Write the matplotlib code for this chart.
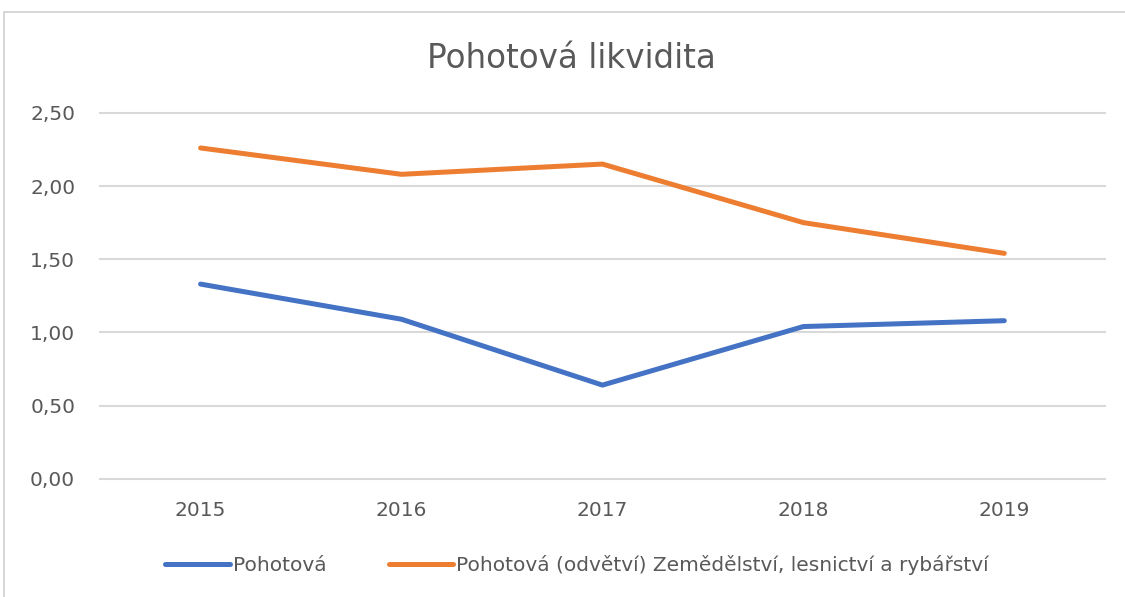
import matplotlib.pyplot as plt
from matplotlib.patches import Rectangle

years = ['2015', '2016', '2017', '2018', '2019']
pohotova = [1.33, 1.09, 0.64, 1.04, 1.08]
odvetvi = [2.26, 2.08, 2.15, 1.75, 1.54]
yticks = [0.0, 0.5, 1.0, 1.5, 2.0, 2.5]

plt.rcParams['font.family'] = ['DejaVu Sans']
grey = '#595959'

fig = plt.figure(figsize=(11.25, 5.97), dpi=100)
ax = fig.add_axes([0.089, 0.198, 0.893, 0.613])

x = range(len(years))
ax.plot(x, pohotova, color='#4472C4', linewidth=3.6, solid_capstyle='round', label='Pohotová')
ax.plot(x, odvetvi, color='#ED7D31', linewidth=3.6, solid_capstyle='round',
        label='Pohotová (odvětví) Zemědělství, lesnictví a rybářství')

ax.set_xlim(-0.5, 4.5)
ax.set_ylim(0, 2.5)
ax.set_yticks(yticks)
ax.set_yticklabels([('%.2f' % v).replace('.', ',') for v in yticks])
ax.set_xticks(list(x))
ax.set_xticklabels(years)
ax.grid(axis='y', color='#D9D9D9', linewidth=1.5)
for gl in ax.get_ygridlines():
    gl.set_clip_on(False)
ax.set_axisbelow(True)
for s in ax.spines.values():
    s.set_visible(False)
ax.tick_params(axis='both', length=0, labelsize=14.5, labelcolor=grey)
ax.tick_params(axis='y', pad=18)
ax.tick_params(axis='x', pad=16)

fig.text(0.508, 0.902, 'Pohotová likvidita', ha='center', va='center', fontsize=23.5, color=grey)

fig.legend(loc='center', bbox_to_anchor=(0.513, 0.053), ncol=2, frameon=False,
           fontsize=14.5, labelcolor=grey, handlelength=3.2, handletextpad=0.15,
           columnspacing=3.1)

# chart frame
fig.patches.append(Rectangle((4 / 1125, -0.05), 1.1, 1 - 12 / 597 + 0.05,
                             transform=fig.transFigure, fill=False,
                             edgecolor='#D0D0D0', linewidth=1.2))

fig.savefig('out.png', dpi=100)
